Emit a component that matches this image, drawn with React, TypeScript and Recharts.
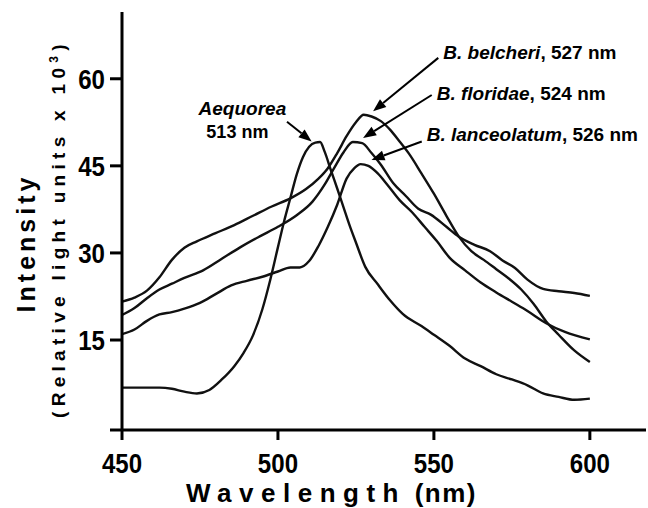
import React from 'react'
import { LineChart, Line, XAxis, YAxis, ReferenceLine, ReferenceDot } from 'recharts'

const FONT = '"Liberation Sans", Arial, Helvetica, sans-serif'

// axis ticks
const xTicks = [450, 500, 550, 600]
const yTicks = [-0.5, 15, 30, 45, 60]

// Aequorea GFP
const aequoreaNm = [450, 456, 462, 466, 470, 474, 478, 482, 486, 489, 492, 495, 497.5, 500, 502, 504, 506, 508, 510, 512, 513.5, 515, 517, 519, 521, 523, 525, 528, 532, 536, 540, 546, 550, 555, 560, 565, 570, 575, 580, 585, 590, 595, 600]
const aequoreaVal = [6.8, 6.8, 6.8, 6.6, 6.1, 5.8, 6.4, 8.2, 10.5, 12.8, 15.8, 20.3, 25.3, 31.0, 35.5, 39.5, 43.5, 46.5, 48.3, 49.0, 49.1, 47.4, 44.2, 41.1, 37.9, 34.7, 31.8, 27.6, 24.6, 21.8, 19.5, 17.4, 15.9, 14.0, 11.8, 10.5, 9.1, 8.2, 7.2, 5.8, 5.2, 4.7, 4.9]

// B. belcheri
const belcheriNm = [450, 454, 458, 462, 466, 470, 474, 480, 486, 492, 498, 504, 509, 513, 516, 519, 522, 525, 527.5, 530, 533, 536, 539, 542, 546, 550, 554, 558, 562, 566, 570, 574, 578, 582, 586, 590, 595, 600]
const belcheriVal = [21.6, 22.3, 23.5, 25.8, 28.8, 30.9, 32.0, 33.4, 34.8, 36.4, 38.0, 39.4, 41.0, 42.8, 44.6, 47.2, 50.1, 52.5, 53.8, 53.5, 52.7, 51.2, 49.2, 47.1, 43.7, 40.2, 36.4, 32.8, 30.3, 28.8, 27.2, 25.6, 23.7, 21.2, 18.2, 15.9, 13.2, 11.2]

// B. floridae
const floridaeNm = [450, 454, 458, 462, 466, 470, 476, 482, 488, 494, 500, 506, 511, 515, 518, 521, 524, 527, 530, 533, 537, 541, 545, 549, 554, 558, 563, 568, 572, 576, 580, 585, 590, 595, 600]
const floridaeVal = [19.3, 20.5, 22.2, 23.7, 24.7, 25.7, 27.0, 29.0, 31.0, 32.8, 34.5, 36.5, 38.8, 41.8, 44.6, 47.3, 49.1, 48.9, 47.2, 45.2, 42.0, 39.8, 37.6, 36.6, 34.5, 32.8, 31.4, 30.3, 28.7, 27.4, 25.4, 23.8, 23.4, 23.1, 22.6]

// B. lanceolatum
const lanceolatumNm = [450, 454, 458, 462, 466, 470, 475, 480, 485, 490, 495, 500, 504, 507, 510, 513, 516, 519, 522, 524.5, 526.5, 529, 532, 535, 539, 543, 547, 551, 555, 560, 565, 570, 575, 580, 586, 592, 600]
const lanceolatumVal = [16.0, 16.8, 18.3, 19.4, 19.8, 20.4, 21.4, 22.9, 24.4, 25.2, 25.9, 26.8, 27.5, 27.5, 28.6, 31.2, 34.5, 38.3, 42.8, 44.6, 45.3, 45.0, 43.7, 41.8, 39.1, 37.0, 34.5, 32.0, 29.2, 27.0, 24.9, 23.2, 21.6, 20.0, 17.9, 16.4, 15.1]

const toRows = (nm: number[], val: number[]) => nm.map((w, i) => ({ nm: w, v: val[i] }))

const series = [
  toRows(aequoreaNm, aequoreaVal),
  toRows(belcheriNm, belcheriVal),
  toRows(floridaeNm, floridaeVal),
  toRows(lanceolatumNm, lanceolatumVal),
]

// callouts: name, peak, text anchor and arrow (data coords)
const callouts = [
  { name: 'B. belcheri', peak: '527 nm', tx: 553, ty: 63.4, from: [551.4, 63.6], to: [530.5, 54.4] },
  { name: 'B. floridae', peak: '524 nm', tx: 550.9, ty: 56.4, from: [549.3, 57.2], to: [527.3, 49.8] },
  { name: 'B. lanceolatum', peak: '526 nm', tx: 547.7, ty: 49.3, from: [546.1, 49.2], to: [530.0, 46.0] },
]

const XTick = (p: any) => (
  <text transform={`translate(${p.x},${p.y}) scale(0.86,1)`} textAnchor="middle" dy={20}
    fontFamily={FONT} fontWeight="bold" fontSize={28} fill="#000">
    {p.payload.value}
  </text>
)

const YTick = (p: any) => {
  if (p.payload.value < 0) return <g />
  return (
    <text transform={`translate(${p.x},${p.y}) scale(0.86,1)`} textAnchor="end" dy={10}
      fontFamily={FONT} fontWeight="bold" fontSize={28} fill="#000">
      {p.payload.value}
    </text>
  )
}

const Arrow = (p: any) => {
  const { x1, y1, x2, y2 } = p
  const a = Math.atan2(y2 - y1, x2 - x1)
  const L = 13, W = 5
  const bx = x2 - L * Math.cos(a), by = y2 - L * Math.sin(a)
  const nx = -Math.sin(a) * W, ny = Math.cos(a) * W
  return (
    <g>
      <line x1={x1} y1={y1} x2={bx} y2={by} stroke="#000" strokeWidth={2} />
      <polygon points={`${x2},${y2} ${bx + nx},${by + ny} ${bx - nx},${by - ny}`} fill="#000" />
    </g>
  )
}

const Callout = (name: string, peak: string) => (p: any) => (
  <text x={p.cx} y={p.cy} fontFamily={FONT} fontWeight="bold" fontSize={19} fill="#000">
    <tspan fontStyle="italic">{name}</tspan>
    <tspan>, {peak}</tspan>
  </text>
)

const AequoreaLabel = (p: any) => (
  <g fontFamily={FONT} fontWeight="bold" fill="#000">
    <text x={p.cx} y={p.cy} textAnchor="middle" fontStyle="italic" fontSize={19}>Aequorea</text>
    <text x={p.cx - 5} y={p.cy + 23} textAnchor="middle" fontSize={18}>513 nm</text>
  </g>
)

export default function App() {
  return (
    <div style={{ position: 'absolute', left: 0, top: 0, background: '#fff' }}>
      <LineChart width={648} height={508} margin={{ top: 12, right: 2, bottom: 0, left: 0 }}>
        <XAxis type="number" dataKey="nm" domain={[450, 618]} ticks={xTicks} allowDataOverflow
          axisLine={{ stroke: '#000', strokeWidth: 3 }} tickLine={{ stroke: '#000', strokeWidth: 3 }}
          tickSize={10} tickMargin={13} tick={<XTick />} height={78} />
        <YAxis type="number" domain={[-0.5, 71.5]} ticks={yTicks} allowDataOverflow width={122}
          axisLine={{ stroke: '#000', strokeWidth: 3 }} tickLine={{ stroke: '#000', strokeWidth: 3 }}
          tickSize={12} tickMargin={5} tick={<YTick />} />
        {series.map((d, i) => (
          <Line key={i} data={d} dataKey="v" type="monotone" stroke="#111" strokeWidth={2.4}
            dot={false} isAnimationActive={false} />
        ))}
        <ReferenceLine segment={[{ x: 502.9, y: 52.6 }, { x: 510.8, y: 49.2 }]} shape={Arrow} ifOverflow="visible" />
        <ReferenceDot x={488.6} y={53.8} r={0} shape={AequoreaLabel} ifOverflow="visible" />
        {callouts.map(c => (
          <ReferenceLine key={c.name + 'a'} segment={[{ x: c.from[0], y: c.from[1] }, { x: c.to[0], y: c.to[1] }]}
            shape={Arrow} ifOverflow="visible" />
        ))}
        {callouts.map(c => (
          <ReferenceDot key={c.name + 't'} x={c.tx} y={c.ty} r={0} shape={Callout(c.name, c.peak)} ifOverflow="visible" />
        ))}
        <text x={186} y={502} fontFamily={FONT} fontWeight="bold" fontSize={26} fill="#000">
          <tspan letterSpacing={7.5}>Wavelength</tspan>
          <tspan letterSpacing={1.5}> (nm)</tspan>
        </text>
        <text transform="translate(35,243) rotate(-90)" textAnchor="middle" fontFamily={FONT} fontWeight="bold"
          fontSize={25} letterSpacing={4} fill="#000">
          Intensity
        </text>
        <text transform="translate(65,418) rotate(-90)" fontFamily={FONT} fontWeight="bold"
          fontSize={19} letterSpacing={5.3} fill="#000">
          (Relative light units x 10<tspan dy={-7} fontSize={12}>3</tspan><tspan dy={7}>)</tspan>
        </text>
      </LineChart>
    </div>
  )
}
